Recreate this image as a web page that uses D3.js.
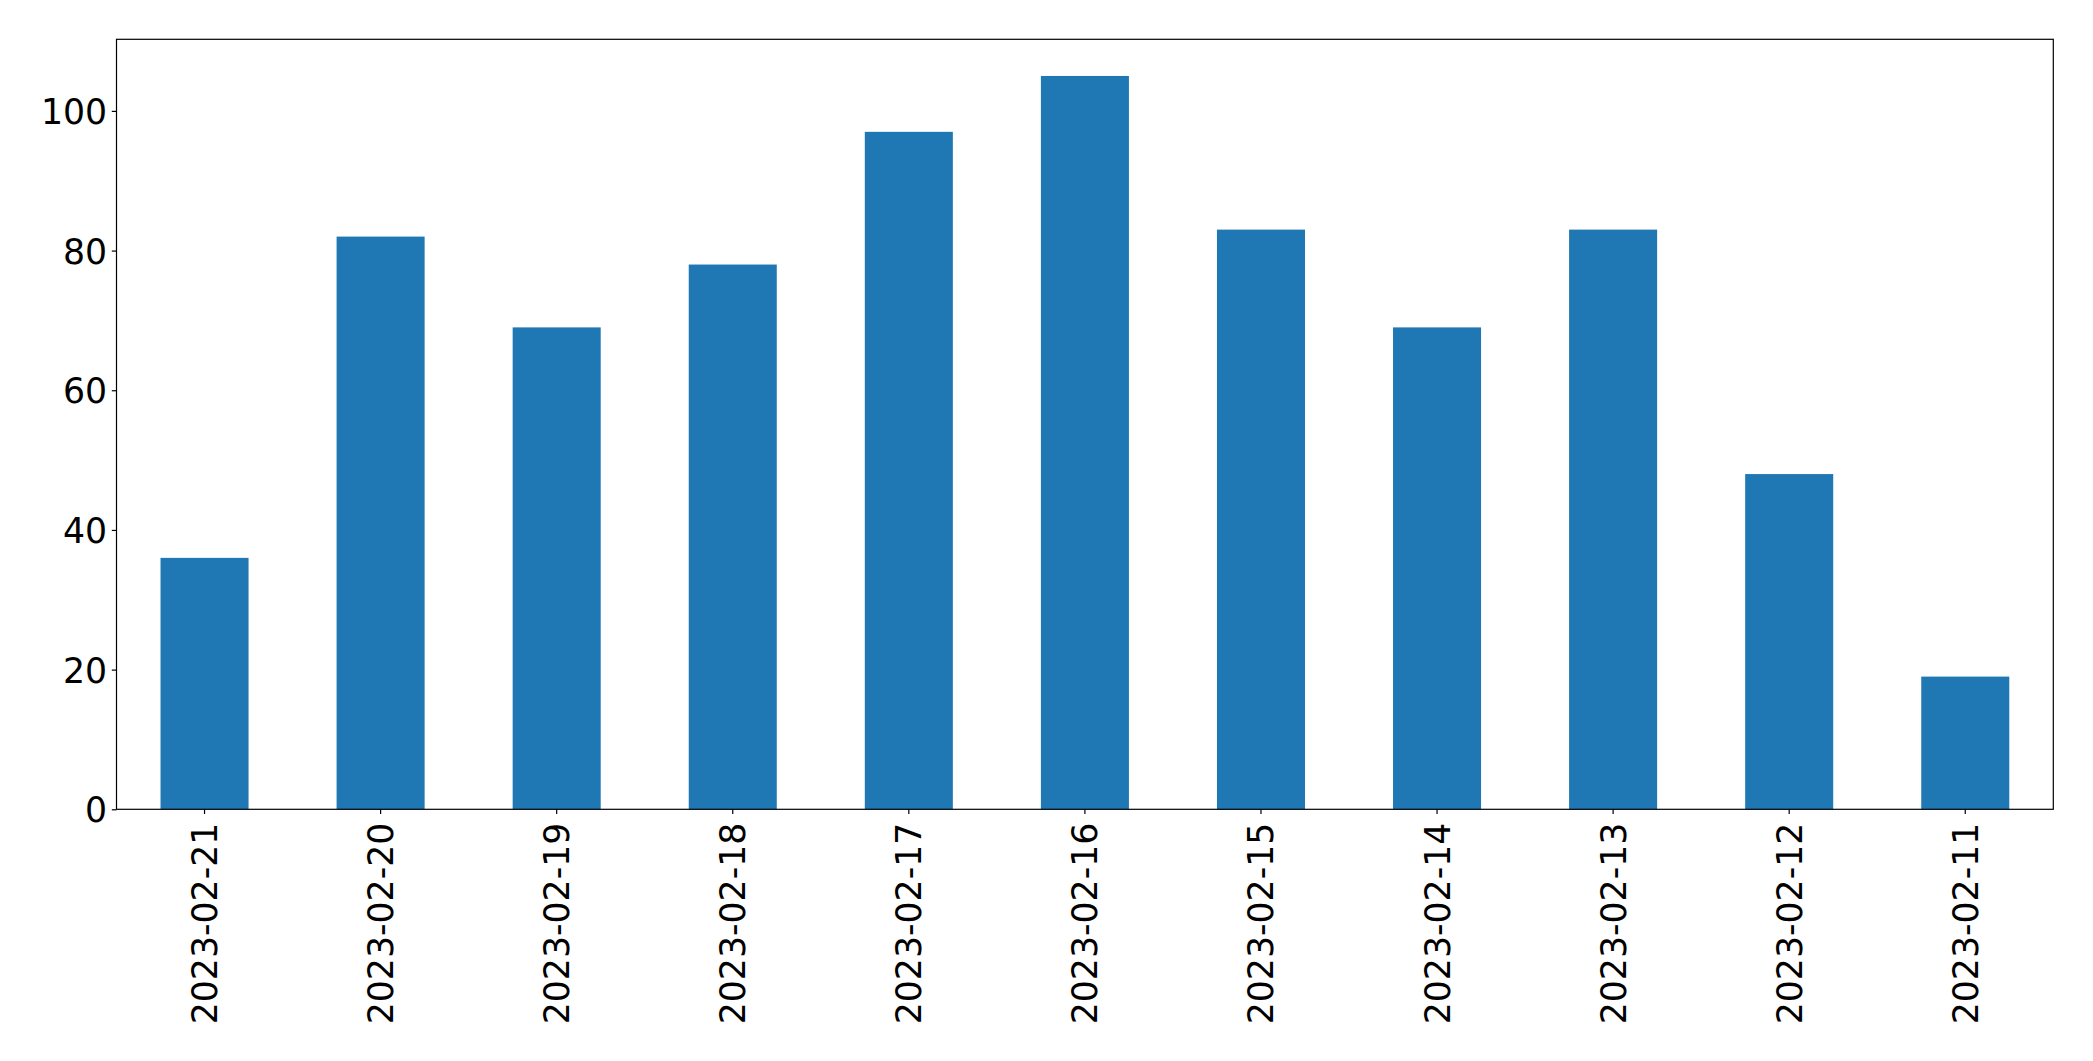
<!DOCTYPE html>
<html>
<head>
<meta charset="utf-8">
<script src="https://cdn.jsdelivr.net/npm/d3@7"></script>
<style>
  html, body { margin: 0; padding: 0; background: #fff; }
  svg { display: block; }
  text { font-family: "DejaVu Sans", sans-serif; fill: #000; }
</style>
</head>
<body>
<svg id="chart" width="2093" height="1061"></svg>
<script>
const categories = ["2023-02-21","2023-02-20","2023-02-19","2023-02-18","2023-02-17","2023-02-16","2023-02-15","2023-02-14","2023-02-13","2023-02-12","2023-02-11"];
const values = [36, 82, 69, 78, 97, 105, 83, 69, 83, 48, 19];
const yTicks = [0, 20, 40, 60, 80, 100];

const W = 2093, H = 1061;
const margin = { left: 116.5, right: W - 2053.3, top: 39.3, bottom: H - 809.3 };
const svg = d3.select("#chart");
const g = svg.append("g");

const x = d3.scaleBand().domain(categories)
  .range([margin.left, W - margin.right]).paddingInner(0.5).paddingOuter(0.25);
const yMax = d3.max(values) * 1.05;
const y = d3.scaleLinear().domain([0, yMax]).range([H - margin.bottom, margin.top]);

g.selectAll("rect.bar").data(values).enter().append("rect")
  .attr("class", "bar")
  .attr("x", (d, i) => x(categories[i]))
  .attr("width", x.bandwidth())
  .attr("y", d => y(d))
  .attr("height", d => y(0) - y(d))
  .attr("fill", "#1f77b4");

const fs = 34.7;
const tickLen = 4.7, pad = 4.7;

// Y axis
const yAxis = d3.axisLeft(y).tickValues(yTicks).tickSize(tickLen).tickPadding(pad).tickFormat(d3.format("d"));
const ya = g.append("g").attr("transform", `translate(${margin.left},0)`).call(yAxis);
ya.select(".domain").remove();
ya.selectAll("line").attr("stroke", "#000").attr("stroke-width", 1.2);
ya.selectAll("text").attr("font-size", fs).attr("font-family", "DejaVu Sans").attr("dy", "0.36em");

// X axis
const xAxis = d3.axisBottom(x).tickSize(tickLen).tickPadding(pad);
const xa = g.append("g").attr("transform", `translate(0,${H - margin.bottom})`).call(xAxis);
xa.select(".domain").remove();
xa.selectAll("line").attr("stroke", "#000").attr("stroke-width", 1.2);
xa.selectAll("text")
  .attr("font-size", fs).attr("font-family", "DejaVu Sans")
  .attr("text-anchor", "end")
  .attr("transform", "rotate(-90)")
  .attr("x", -(tickLen + pad + 4))
  .attr("y", 0)
  .attr("dy", "0.36em");

// Frame
g.append("rect")
  .attr("x", margin.left).attr("y", margin.top)
  .attr("width", W - margin.right - margin.left)
  .attr("height", H - margin.bottom - margin.top)
  .attr("fill", "none").attr("stroke", "#000").attr("stroke-width", 1.2);
</script>
</body>
</html>
